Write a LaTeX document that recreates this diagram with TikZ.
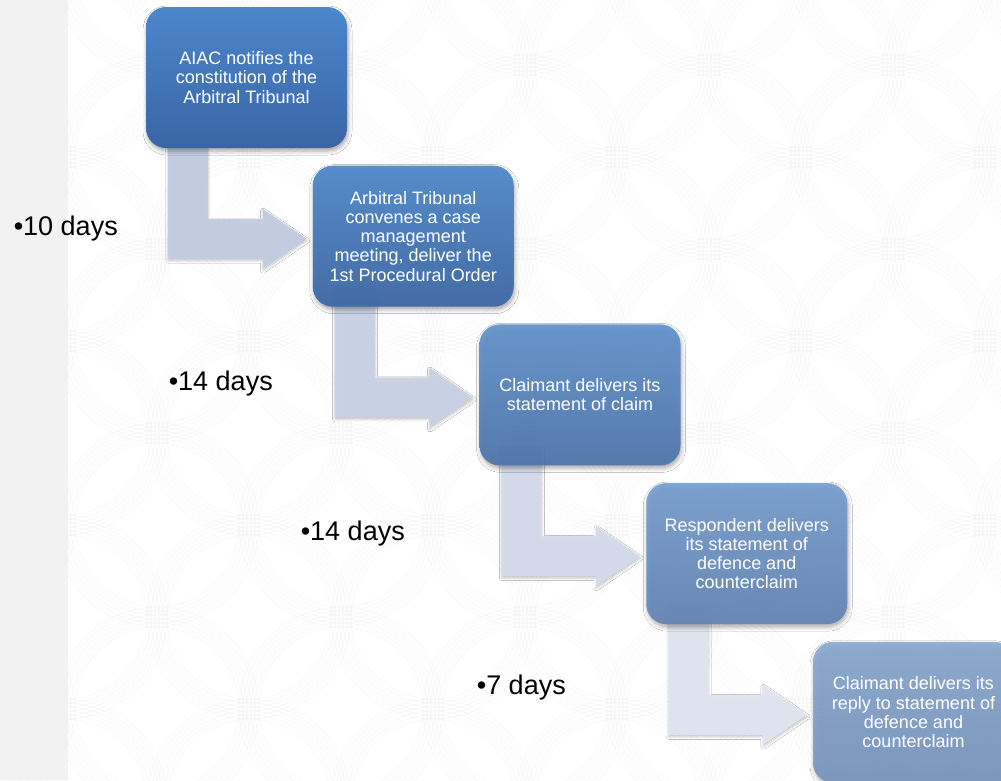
\documentclass[tikz,border=0pt]{standalone}
\usepackage{fontspec}
\setmainfont{Liberation Sans}
\usetikzlibrary{calc,shadows.blur}
\definecolor{boxAtop}{RGB}{75,135,203}
\definecolor{boxAbot}{RGB}{58,101,165}
\definecolor{boxBtop}{RGB}{82,139,203}
\definecolor{boxBbot}{RGB}{64,106,166}
\definecolor{boxCtop}{RGB}{98,148,205}
\definecolor{boxCbot}{RGB}{80,118,172}
\definecolor{boxDtop}{RGB}{118,158,208}
\definecolor{boxDbot}{RGB}{98,132,180}
\definecolor{boxEtop}{RGB}{135,168,210}
\definecolor{boxEbot}{RGB}{118,148,190}
\definecolor{arrA}{RGB}{194,205,226}
\definecolor{arrB}{RGB}{201,210,229}
\definecolor{arrC}{RGB}{212,219,234}
\definecolor{arrD}{RGB}{224,229,240}
\tikzset{
  stepbox/.style={rounded corners=20pt, minimum width=201pt, minimum height=141pt,
    inner sep=0pt, align=center, text=white, text opacity=1,
    font=\fontsize{18}{19.2}\selectfont,
    blur shadow={shadow xshift=1pt, shadow yshift=-3pt, shadow blur radius=4pt, shadow opacity=35}},
  daylabel/.style={anchor=base east, font=\fontsize{27}{30}\selectfont, text=black, inner sep=0pt},
  bgring/.style={draw=black!5, line width=0.35pt},
  bentfill/.style={fill=#1, fill opacity=0.95,
    blur shadow={shadow xshift=0.5pt, shadow yshift=-2pt, shadow blur radius=2.5pt, shadow opacity=22}},
}
\newcommand{\bentarrow}[3]{%
  \path[bentfill=#3] let \p1=(#1.south west), \p2=(#2.west) in
    (\x1+22pt,\y1+20pt) -- (\x1+62pt,\y1+20pt) -- (\x1+62pt,\y2+17.5pt)
    -- (\x2-50pt,\y2+17.5pt) -- (\x2-50pt,\y2+27.5pt) -- (\x2-6pt,\y2-2.5pt)
    -- (\x2-50pt,\y2-32.5pt) -- (\x2-50pt,\y2-22.5pt) -- (\x1+22pt,\y2-22.5pt) -- cycle;}
\begin{document}
\begin{tikzpicture}[x=1pt,y=-1pt]
\useasboundingbox (0,0) rectangle (1001,780);
\begin{scope}
\clip (0,0) rectangle (1001,780);
\fill[white] (0,0) rectangle (1001,780);
\fill[black!5] (0,0) rectangle (68,780);
\foreach \i in {-2,...,10}{
  \foreach \j in {-5,...,4}{
    \pgfmathtruncatemacro{\myparity}{mod(\i+\j+20,2)}
    \ifnum\myparity=1
      \foreach \r in {82,86,90,94,98,102}{
        \draw[bgring] (157+92*\i,433+92*\j) circle[radius=\r pt];
      }
    \fi
  }
}
\end{scope}
\begin{scope}
\clip (0,0) rectangle (1001,780);
\path (246.5,77.5) coordinate (c1) (413.25,236.2) coordinate (c2)
      (580,394.9) coordinate (c3) (746.75,553.6) coordinate (c4) (913.5,712.3) coordinate (c5);
\path (c1) node[minimum width=201pt, minimum height=141pt, inner sep=0pt] (g1) {};
\path (c2) node[minimum width=201pt, minimum height=141pt, inner sep=0pt] (g2) {};
\path (c3) node[minimum width=201pt, minimum height=141pt, inner sep=0pt] (g3) {};
\path (c4) node[minimum width=201pt, minimum height=141pt, inner sep=0pt] (g4) {};
\path (c5) node[minimum width=201pt, minimum height=141pt, inner sep=0pt] (g5) {};
\bentarrow{g1}{g2}{arrA}
\bentarrow{g2}{g3}{arrB}
\bentarrow{g3}{g4}{arrC}
\bentarrow{g4}{g5}{arrD}
\node[stepbox, top color=boxAtop, bottom color=boxAbot] (b1) at (c1)
  {AIAC notifies the\\constitution of the\\Arbitral Tribunal};
\node[stepbox, top color=boxBtop, bottom color=boxBbot, fill opacity=0.96] (b2) at (c2)
  {Arbitral Tribunal\\convenes a case\\management\\meeting, deliver the\\1st Procedural Order};
\node[stepbox, top color=boxCtop, bottom color=boxCbot, fill opacity=0.93] (b3) at (c3)
  {Claimant delivers its\\statement of claim};
\node[stepbox, top color=boxDtop, bottom color=boxDbot, fill opacity=0.9] (b4) at (c4)
  {Respondent delivers\\its statement of\\defence and\\counterclaim};
\node[stepbox, top color=boxEtop, bottom color=boxEbot, fill opacity=0.88] (b5) at (c5)
  {Claimant delivers its\\reply to statement of\\defence and\\counterclaim};
\end{scope}
\node[daylabel] (d1) at (118,235) {•10 days};
\node[daylabel] (d2) at (273,390) {•14 days};
\node[daylabel] (d3) at (405,540) {•14 days};
\node[daylabel] (d4) at (566,694) {•7 days};
\end{tikzpicture}
\end{document}
